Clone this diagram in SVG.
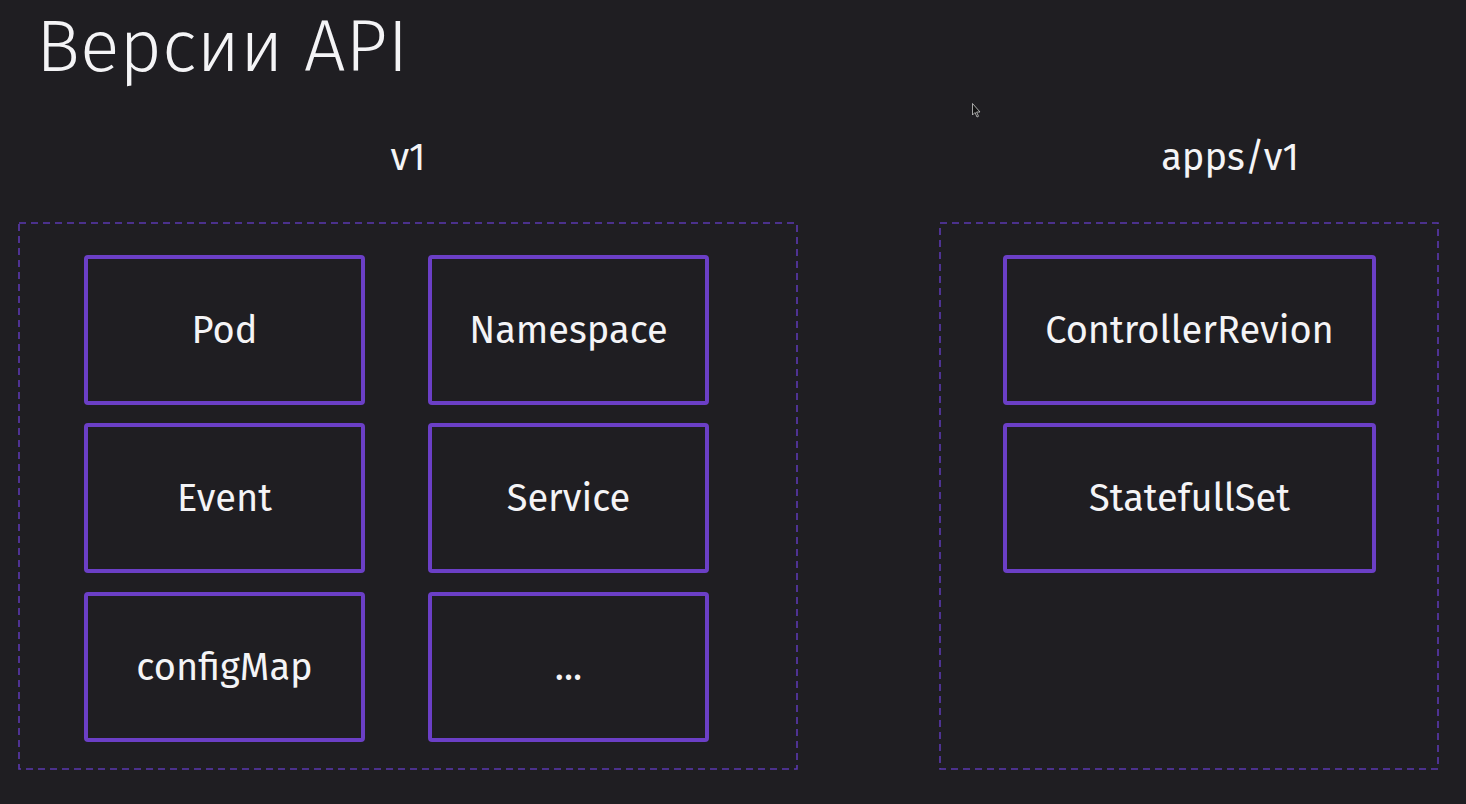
<svg xmlns="http://www.w3.org/2000/svg" width="1466" height="804" viewBox="0 0 1466 804">
<style>
.bg{fill:#1f1e22}
.group{fill:none;stroke:#5b39b0;stroke-width:1.6;stroke-dasharray:7 5}
.node{fill:#1f1e22;stroke:#6b3fc6;stroke-width:4;rx:2}
.lbl{fill:#f4f4f6;font-family:"Fira Sans","Open Sans","Noto Sans",sans-serif;font-size:38px;text-anchor:middle;dominant-baseline:central}
.title{fill:#f4f4f6;font-family:"Fira Sans","Open Sans","Noto Sans",sans-serif;font-size:73.5px;font-weight:300}
.hdr{fill:#f4f4f6;font-family:"Fira Sans","Open Sans","Noto Sans",sans-serif;font-size:38px;text-anchor:middle}
</style>
<rect class="bg" x="0" y="0" width="1466" height="804"/>
<text class="title" x="36" y="71">Версии API</text>
<text class="hdr" x="408" y="170">v1</text>
<text class="hdr" x="1230" y="170">apps/v1</text>
<path d="M972.5 103.5 L972.5 115 L975 112.5 L977 117 L978.5 116.3 L976.6 112 L980 112 Z" fill="#111" stroke="#ccc" stroke-width="0.8"/>
<g id="group-v1"><rect class="group" x="19" y="223" width="778" height="546"/></g>
<g id="group-apps-v1"><rect class="group" x="940" y="223" width="498" height="546"/></g>
<g id="pod"><rect class="node" x="86" y="257" width="277" height="146"/><text class="lbl" x="224.5" y="330">Pod</text></g>
<g id="namespace"><rect class="node" x="430" y="257" width="277" height="146"/><text class="lbl" x="568.5" y="330">Namespace</text></g>
<g id="event"><rect class="node" x="86" y="425" width="277" height="146"/><text class="lbl" x="224.5" y="498">Event</text></g>
<g id="service"><rect class="node" x="430" y="425" width="277" height="146"/><text class="lbl" x="568.5" y="498">Service</text></g>
<g id="configmap"><rect class="node" x="86" y="594" width="277" height="146"/><text class="lbl" x="224.5" y="667">configMap</text></g>
<g id="more"><rect class="node" x="430" y="594" width="277" height="146"/><text class="lbl" x="568.5" y="667">...</text></g>
<g id="controllerrevion"><rect class="node" x="1005" y="257" width="369" height="146"/><text class="lbl" x="1189.5" y="330">ControllerRevion</text></g>
<g id="statefullset"><rect class="node" x="1005" y="425" width="369" height="146"/><text class="lbl" x="1189.5" y="498">StatefullSet</text></g>
<g id="connectors"></g>
</svg>
